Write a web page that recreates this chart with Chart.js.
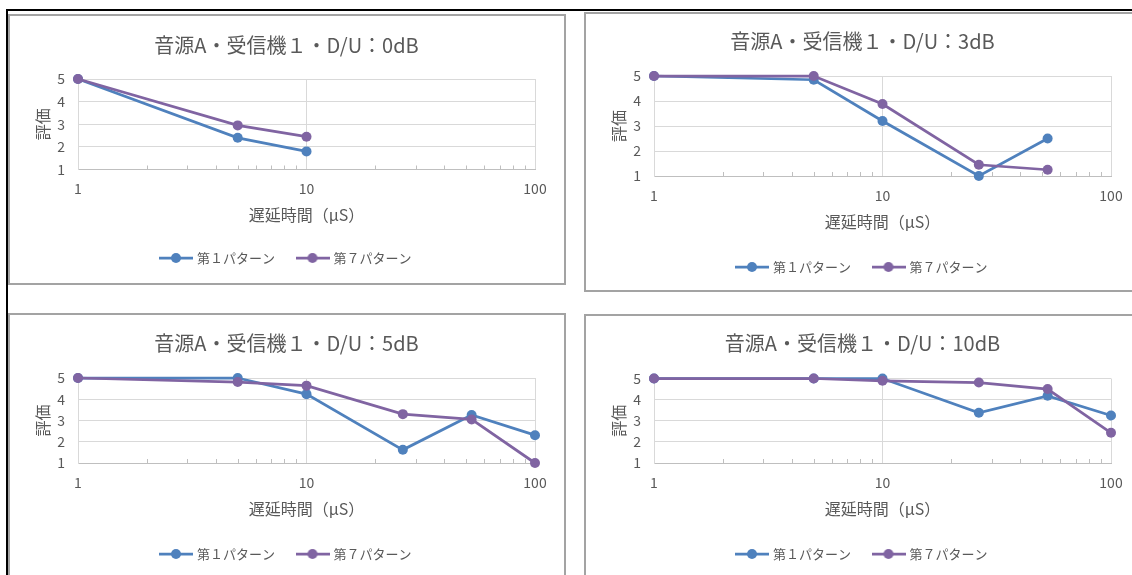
<!DOCTYPE html>
<html>
<head>
<meta charset="utf-8">
<script src="https://cdn.jsdelivr.net/npm/chart.js@4.4.0/dist/chart.umd.min.js"></script>
<style>
  html, body { margin: 0; padding: 0; background: #fff; overflow: hidden; width: 1132px; height: 575px; }
  .page-top { position: absolute; left: 6px; top: 9px; width: 1126px; height: 2px; background: #000; }
  .page-left { position: absolute; left: 6px; top: 9px; width: 2px; height: 566px; background: #000; }
  .box { position: absolute; box-sizing: border-box; border: 2px solid #a3a3a3; }
  canvas { position: absolute; }
</style>
</head>
<body>
<div class="page-top"></div>
<div class="page-left"></div>
<script>
// delay time (µs), log axis
const delay0dB = [1, 5, 10];
const delay = [1, 5, 10, 26.4, 52.8, 100];
const xTickValues = [1, 10, 100];

// 評価 for each pattern
const p1_0dB = [5, 2.4, 1.8];
const p7_0dB = [5, 2.95, 2.45];
const p1_3dB = [5, 4.85, 3.2, 1.0, 2.5];
const p7_3dB = [5, 5.0, 3.88, 1.45, 1.25];
const p1_5dB = [5, 5.0, 4.24, 1.62, 3.26, 2.31];
const p7_5dB = [5, 4.81, 4.64, 3.3, 3.05, 1.0];
const p1_10dB = [5, 5.0, 5.0, 3.38, 4.18, 3.25];
const p7_10dB = [5, 5.0, 4.89, 4.81, 4.5, 2.43];

const seriesNames = ["第１パターン", "第７パターン"];
const colors = ["#4F81BD", "#8064A2"];

const FONT = "'Noto Sans CJK JP', 'Noto Sans', sans-serif";
const TEXT = "#595959";
const CANVAS_W = 557, CANVAS_H = 300;
const LEG_PAD = 23;

// box = [left, top, width, height] on the page
const panels = [
  { title: "音源A・受信機１・D/U：0dB", x: delay0dB, p1: p1_0dB, p7: p7_0dB,
    box: [8, 14, 558, 271], titleY: 45.5, plotTop: 79, plotBottom: 169.5, legendY: 258 },
  { title: "音源A・受信機１・D/U：3dB", x: delay, p1: p1_3dB, p7: p7_3dB,
    box: [584, 12, 560, 280], titleY: 41, plotTop: 76, plotBottom: 176, legendY: 267 },
  { title: "音源A・受信機１・D/U：5dB", x: delay, p1: p1_5dB, p7: p7_5dB,
    box: [8, 313, 558, 300], titleY: 343, plotTop: 378, plotBottom: 463, legendY: 554 },
  { title: "音源A・受信機１・D/U：10dB", x: delay, p1: p1_10dB, p7: p7_10dB,
    box: [584, 314, 560, 300], titleY: 343, plotTop: 378.5, plotBottom: 463, legendY: 554 },
];

// line + marker image for the legend
function legendMark(color) {
  const c = document.createElement("canvas");
  c.width = 34; c.height = 12;
  const g = c.getContext("2d");
  g.strokeStyle = color; g.lineWidth = 2.75;
  g.beginPath(); g.moveTo(0, 6); g.lineTo(34, 6); g.stroke();
  g.fillStyle = color;
  g.beginPath(); g.arc(17, 6, 5, 0, Math.PI * 2); g.fill();
  return c;
}
const marks = colors.map(legendMark);

// small inside tick marks on the log axis
const minorTicks = {
  id: "minorTicks",
  beforeDatasetsDraw(chart) {
    const xs = chart.scales.x, ctx = chart.ctx, bottom = chart.chartArea.bottom;
    ctx.save();
    ctx.strokeStyle = "#bfbfbf";
    ctx.lineWidth = 1;
    for (let d = 1; d < 100; d *= 10) {
      for (let k = 2; k <= 9; k++) {
        const px = Math.round(xs.getPixelForValue(k * d)) + 0.5;
        ctx.beginPath();
        ctx.moveTo(px, bottom);
        ctx.lineTo(px, bottom - 4);
        ctx.stroke();
      }
    }
    ctx.restore();
  }
};

function makeDataset(i, xs, ys) {
  return {
    label: seriesNames[i],
    data: ys.map((y, j) => ({ x: xs[j], y: y })),
    borderColor: colors[i],
    backgroundColor: colors[i],
    borderWidth: 2.75,
    pointRadius: 5,
    pointBorderWidth: 0,
    pointBackgroundColor: colors[i],
    tension: 0,
    clip: false,
    order: i === 0 ? 1 : 0,
  };
}

panels.forEach((p) => {
  const [left, top, w, h] = p.box;
  const box = document.createElement("div");
  box.className = "box";
  box.style.left = left + "px"; box.style.top = top + "px";
  box.style.width = w + "px"; box.style.height = h + "px";
  document.body.appendChild(box);

  const cv = document.createElement("canvas");
  cv.width = CANVAS_W; cv.height = CANVAS_H;
  cv.style.left = left + "px"; cv.style.top = top + "px";
  document.body.appendChild(cv);

  const titlePadTop = p.titleY - top - 12;
  const titlePadBottom = p.plotTop - top - titlePadTop - 24;
  const legendTop = p.legendY - LEG_PAD - 6.5;
  const xAxisH = legendTop - p.plotBottom;
  const xTitlePad = xAxisH - 45.5 - 9.6;
  // legend box height in Chart.js: padding + item height + 10
  const padBottom = CANVAS_H - (legendTop - top) - (LEG_PAD + 13 + 10);

  new Chart(cv.getContext("2d"), {
    type: "line",
    data: {
      datasets: [makeDataset(0, p.x, p.p1), makeDataset(1, p.x, p.p7)],
    },
    options: {
      responsive: false,
      animation: false,
      devicePixelRatio: 1,
      layout: { padding: { left: 0, right: 0, top: 0, bottom: padBottom } },
      plugins: {
        title: {
          display: true,
          text: p.title,
          color: TEXT,
          font: { family: FONT, size: 20, weight: "normal" },
          padding: { top: titlePadTop, bottom: titlePadBottom },
        },
        legend: {
          position: "bottom",
          labels: {
            usePointStyle: true,
            pointStyleWidth: 29,
            padding: LEG_PAD,
            color: TEXT,
            font: { family: FONT, size: 13 },
            sort: (a, b) => a.datasetIndex - b.datasetIndex,
            generateLabels(chart) {
              const items = Chart.defaults.plugins.legend.labels.generateLabels(chart);
              items.forEach((it) => { it.pointStyle = marks[it.datasetIndex]; });
              return items;
            },
          },
        },
        tooltip: { enabled: false },
      },
      scales: {
        x: {
          type: "logarithmic",
          min: 1,
          max: 100,
          afterBuildTicks: (s) => { s.ticks = xTickValues.map((v) => ({ value: v })); },
          afterFit: (s) => { s.height = xAxisH; },
          ticks: {
            autoSkip: false,
            maxRotation: 0,
            padding: 11,
            color: TEXT,
            font: { family: FONT, size: 14 },
            callback: (v) => String(v),
          },
          grid: { color: "#d9d9d9", drawTicks: false },
          border: { color: "#bfbfbf" },
          title: {
            display: true,
            text: "遅延時間（μS）",
            color: TEXT,
            font: { family: FONT, size: 16 },
            padding: { top: 0, bottom: xTitlePad },
          },
        },
        y: {
          min: 1,
          max: 5,
          afterFit: (s) => { s.width = 70; },
          ticks: {
            stepSize: 1,
            padding: 13,
            color: TEXT,
            font: { family: FONT, size: 14 },
          },
          grid: { color: "#d9d9d9", drawTicks: false },
          border: { color: "#d9d9d9" },
          title: {
            display: true,
            text: "評価",
            color: TEXT,
            font: { family: FONT, size: 16 },
            padding: { top: 25, bottom: 0 },
          },
        },
        yr: {
          position: "right",
          display: true,
          afterFit: (s) => { s.width = 30; },
          ticks: { display: false },
          grid: { display: false },
          border: { display: false },
        },
      },
    },
    plugins: [minorTicks],
  });
});
</script>
</body>
</html>
